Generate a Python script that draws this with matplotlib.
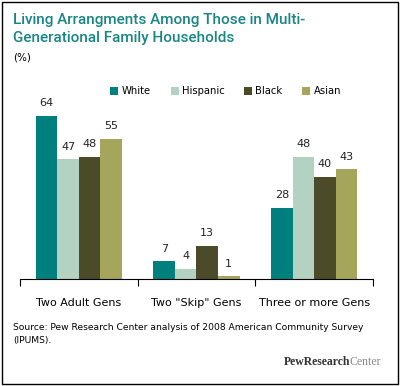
import matplotlib.pyplot as plt
import numpy as np

groups = ["Two Adult Gens", "Two \"Skip\" Gens", "Three or more Gens"]
series = ["White", "Hispanic", "Black", "Asian"]
white = [64, 7, 28]
hispanic = [47, 4, 48]
black = [48, 13, 40]
asian = [55, 1, 43]
colors = ["#007f7f", "#b4d2c2", "#4b4b2a", "#a5a65b"]

fig = plt.figure(figsize=(4.01, 3.86), dpi=100)
ax = fig.add_axes([20 / 401, 1 - 279 / 386, 353 / 401, 178.5 / 386])

x = np.arange(len(groups))
w = 0.183
for i, (name, vals) in enumerate(zip(series, [white, hispanic, black, asian])):
    pos = x + (i - 1.5) * w
    ax.bar(pos, vals, w, color=colors[i], label=name)
    for p, v in zip(pos, vals):
        ax.text(p, v + 3, str(v), ha="center", va="bottom", fontsize=8, color="#222222")

ax.set_xlim(-0.5, 2.5)
ax.set_ylim(0, 70)
for s in ["top", "right", "left"]:
    ax.spines[s].set_visible(False)
ax.spines["bottom"].set_linewidth(0.8)
ax.set_yticks([])
ax.set_xticks(x)
ax.set_xticklabels(groups, fontsize=8)
ax.tick_params(axis="x", which="major", length=0, pad=14)
ax.set_xticks([-0.5, 0.5, 1.5, 2.5], minor=True)
ax.tick_params(axis="x", which="minor", length=5, direction="out", width=0.8)

ax.legend(loc="lower left", bbox_to_anchor=(0.245, 1.0), ncol=4, frameon=False,
          fontsize=7.2, handlelength=0.8, handleheight=0.8, handletextpad=0.3,
          columnspacing=2.0, borderaxespad=0)

fig.text(13 / 401, 1 - 20 / 386, "Living Arrangments Among Those in Multi-",
         fontsize=11, color="#1a8585", family="Roboto", weight="medium", va="center")
fig.text(13 / 401, 1 - 38 / 386, "Generational Family Households",
         fontsize=11, color="#1a8585", family="Roboto", weight="medium", va="center")
fig.text(13 / 401, 1 - 57 / 386, "(%)", fontsize=7.5, va="center")
fig.text(13 / 401, 1 - 328 / 386,
         "Source: Pew Research Center analysis of 2008 American Community Survey",
         fontsize=6.6, va="center")
fig.text(13 / 401, 1 - 341 / 386, "(IPUMS).", fontsize=6.6, va="center")
fig.text(350 / 401, 1 - 362 / 386, "PewResearch", fontsize=8.5, family="Liberation Serif",
         weight="bold", color="#333333", ha="right", va="center")
fig.text(350 / 401, 1 - 362 / 386, "Center", fontsize=8.5, family="Liberation Serif",
         color="#888888", ha="left", va="center")

fig.add_artist(plt.Rectangle((2 / 401, 2 / 386), 396 / 401, 382 / 386,
                             transform=fig.transFigure, fill=False, lw=1, ec="black"))

fig.savefig("out.png", dpi=100)
